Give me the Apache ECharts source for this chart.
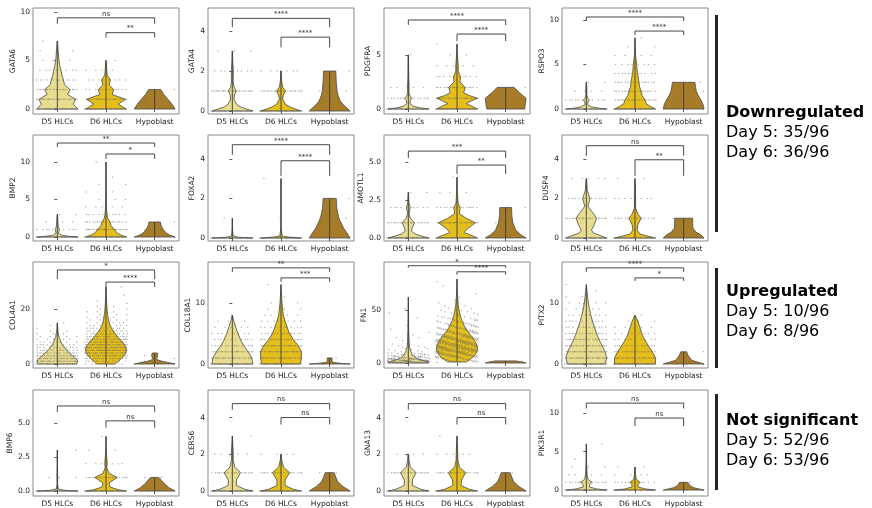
<!DOCTYPE html>
<html><head><meta charset="utf-8">
<script src="https://cdn.jsdelivr.net/npm/echarts@6/dist/echarts.min.js"></script>
<style>html,body{margin:0;padding:0;background:#fff}#c{width:872px;height:508px}</style>
</head><body><div id="c"></div><script>
const categories = ['D5 HLCs', 'D6 HLCs', 'Hypoblast'];
const genes = ['GATA6','GATA4','PDGFRA','RSPO3','BMP2','FOXA2','AMOTL1','DUSP4','COL4A1','COL18A1','FN1','PITX2','BMP6','CERS6','GNA13','PIK3R1'];
const yRange = [[-0.51,10.4],[-0.15,5.16],[-0.46,9.35],[-0.56,11.35],
                [-0.53,13.6],[-0.15,5.2],[-0.2,6.78],[-0.15,5.2],
                [-1.45,37.1],[-0.65,16.7],[-4.7,95],[-0.65,16.7],
                [-0.36,7.4],[-0.27,5.5],[-0.27,5.5],[-0.77,13]];
const yTicks = [[0,5,10],[0,2,4],[0,5],[0,5,10],
                [0,5,10],[0,2,4],[0,2.5,5],[0,2,4],
                [0,20],[0,10],[0,50],[0,10],
                [0,2.5,5],[0,2,4],[0,2,4],[0,5,10]];
const sigTop = ['ns','****','****','****','**','****','***','ns','*','**','*','****','ns','ns','ns','ns'];
const sigLow = ['**','****','****','****','*','****','**','**','****','***','****','*','ns','ns','ns','ns'];
// bracket heights (data units): [top line, top leg end, lower line, lower leg end]
const bracketY = [[9.39,8.78,7.86,7.35],[4.64,4.2,3.7,3.19],[8.24,7.78,6.94,6.3],[10.34,9.89,8.76,8.31],
                  [12.53,12.0,11.07,10.4],[4.71,4.2,3.9,3.14],[5.72,5.26,4.8,4.21],[4.66,4.15,3.95,3.14],
                  [34.2,30.9,29.8,28.0],[15.74,15.08,14.1,13.44],[91.5,89.6,85.8,83],[15.74,15.08,14.1,13.6],
                  [6.23,5.8,5.14,4.64],[4.76,4.43,4.0,3.62],[4.76,4.43,4.0,3.62],[11.3,10.6,9.36,8.3]];
const groupColors = ['#e8dc8f','#e4bf1c','#a67c28'];

// violin outlines: [value, relative half-width]
const vGATA6 = [
 [[0,1],[0.5,0.78],[1,0.9],[1.5,0.5],[2,0.62],[2.5,0.35],[3,0.3],[3.5,0.22],[4,0.18],[4.5,0.12],[5,0.08],[6,0.04],[7,0.01]],
 [[0,1],[0.5,0.6],[1,0.95],[1.5,0.3],[2,0.38],[2.5,0.15],[3,0.22],[3.5,0.06],[4,0.04],[5,0.01]],
 [[0,1],[0.5,0.85],[1,0.65],[1.5,0.45],[2,0.3]]];
const vGATA4 = [
 [[0,1],[0.1,0.7],[0.2,0.4],[0.35,0.2],[0.6,0.08],[0.8,0.1],[1,0.2],[1.2,0.08],[1.5,0.04],[2,0.05],[2.5,0.02],[3,0.01]],
 [[0,1],[0.1,0.7],[0.2,0.45],[0.35,0.2],[0.6,0.08],[0.8,0.12],[1,0.22],[1.2,0.08],[1.5,0.03],[2,0.01]],
 [[0,1],[0.15,0.85],[0.3,0.68],[0.5,0.52],[0.75,0.42],[1,0.36],[1.5,0.32],[2,0.3]]];
const vPDGFRA = [
 [[0,1],[0.1,0.6],[0.25,0.25],[0.5,0.08],[0.8,0.1],[1,0.18],[1.2,0.08],[1.6,0.03],[2,0.04],[3,0.02],[5,0.01]],
 [[0,1],[0.25,0.75],[0.5,0.45],[0.75,0.7],[1,1],[1.25,0.6],[1.5,0.33],[2,0.4],[2.5,0.15],[3,0.17],[3.5,0.06],[4,0.06],[5,0.02],[6,0.005]],
 [[0,0.92],[0.5,0.97],[1,1],[1.5,0.68],[2,0.42]]];
const vRSPO3 = [
 [[0,1],[0.1,0.6],[0.25,0.25],[0.5,0.06],[0.8,0.08],[1,0.15],[1.2,0.06],[1.6,0.02],[2,0.03],[3,0.01]],
 [[0,1],[0.3,0.75],[0.6,0.55],[1,0.5],[1.5,0.35],[2,0.3],[2.5,0.22],[3,0.2],[4,0.12],[5,0.08],[6,0.03],[7,0.015],[8,0.0]],
 [[0,1],[0.5,0.95],[1,0.85],[1.5,0.72],[2,0.62],[2.5,0.58],[3,0.55]]];
const vBMP2 = [
 [[0,1],[0.1,0.55],[0.25,0.2],[0.5,0.06],[1,0.1],[1.5,0.04],[2,0.03],[3,0.01]],
 [[0,1],[0.25,0.75],[0.5,0.55],[1,0.42],[1.5,0.25],[2,0.2],[2.5,0.08],[3,0.05],[4,0.02],[6,0.01],[10,0.0]],
 [[0,1],[0.25,0.75],[0.5,0.58],[1,0.42],[1.5,0.32],[2,0.28]]];
const vFOXA2 = [
 [[0,1],[0.04,0.3],[0.1,0.04],[0.5,0.005],[1,0.003]],
 [[0,1],[0.05,0.35],[0.1,0.06],[0.5,0.005],[1,0.003],[3,0.002]],
 [[0,1],[0.25,0.85],[0.5,0.68],[1,0.45],[1.5,0.35],[2,0.32]]];
const vAMOTL1 = [
 [[0,1],[0.1,0.7],[0.25,0.35],[0.45,0.15],[0.7,0.2],[1,0.3],[1.3,0.1],[1.6,0.04],[2,0.09],[2.3,0.03],[3,0.01]],
 [[0,1],[0.15,0.75],[0.35,0.35],[0.6,0.5],[1,0.9],[1.3,0.45],[1.6,0.12],[2,0.15],[2.3,0.05],[3,0.02],[4,0.005]],
 [[0,1],[0.2,0.75],[0.5,0.5],[1,0.35],[1.5,0.3],[2,0.29]]];
const vDUSP4 = [
 [[0,1],[0.1,0.75],[0.25,0.35],[0.4,0.25],[0.7,0.4],[1,0.5],[1.3,0.3],[1.6,0.08],[2,0.18],[2.4,0.05],[3,0.01]],
 [[0,1],[0.1,0.6],[0.2,0.25],[0.4,0.1],[0.7,0.15],[1,0.3],[1.2,0.15],[1.5,0.03],[2,0.03],[3,0.005]],
 [[0,1],[0.15,0.85],[0.3,0.6],[0.5,0.45],[0.75,0.44],[1,0.44]]];
const vCOL4A1 = [
 [[0,0.95],[1,1],[2,0.9],[3,0.75],[4,0.6],[5,0.45],[6,0.35],[7,0.25],[8,0.18],[10,0.08],[12,0.03],[15,0.0]],
 [[0,0.45],[1,0.6],[2,0.75],[3,0.88],[4,0.96],[5,1],[6,0.98],[8,0.8],[10,0.55],[12,0.35],[14,0.2],[16,0.12],[18,0.08],[20,0.05],[24,0.02],[28,0.0]],
 [[0,1],[0.5,0.7],[1,0.35],[1.5,0.15],[2,0.1],[3,0.15],[4,0.12]]];
const vCOL18A1 = [
 [[0,1],[1,0.95],[2,0.78],[3,0.56],[4,0.4],[5,0.28],[6,0.17],[7,0.08],[8,0.0]],
 [[0,0.95],[1,1],[2,1],[3,0.85],[4,0.6],[5,0.42],[6,0.3],[7,0.2],[8,0.12],[9,0.08],[10,0.05],[11,0.03],[13,0.0]],
 [[0,1],[0.1,0.6],[0.25,0.2],[0.5,0.1],[0.8,0.12],[1,0.12]]];
const vFN1 = [
 [[0,1],[1,0.95],[2,0.8],[3,0.6],[5,0.35],[8,0.2],[10,0.15],[12,0.1],[15,0.06],[20,0.04],[30,0.02],[45,0.01],[62,0.0]],
 [[1,0.45],[3,0.6],[5,0.75],[8,0.9],[12,1],[16,0.98],[20,0.9],[25,0.72],[30,0.5],[35,0.35],[40,0.24],[45,0.15],[50,0.1],[55,0.06],[65,0.02],[79,0.0]],
 [[0,1],[1,0.8],[2,0.5]]];
const vPITX2 = [
 [[0,0.92],[1,1],[2,0.92],[3,0.77],[4,0.62],[5,0.5],[6,0.4],[7,0.3],[8,0.22],[9,0.15],[10,0.1],[11,0.06],[13,0.0]],
 [[0,1],[1,1],[2,0.85],[3,0.65],[4,0.47],[5,0.33],[6,0.24],[7,0.14],[8,0.0]],
 [[0,1],[0.3,0.7],[0.6,0.4],[1,0.3],[1.5,0.2],[2,0.15]]];
const vBMP6 = [
 [[0,1],[0.05,0.4],[0.15,0.05],[0.5,0.01],[1,0.02],[2,0.005],[3,0.0]],
 [[0,1],[0.1,0.6],[0.3,0.2],[0.6,0.15],[1,0.55],[1.3,0.15],[1.7,0.04],[2,0.06],[3,0.01],[4,0.0]],
 [[0,1],[0.25,0.7],[0.5,0.5],[0.75,0.35],[1,0.2]]];
const vCERS6 = [
 [[0,1],[0.1,0.6],[0.3,0.2],[0.6,0.2],[1,0.4],[1.3,0.12],[1.7,0.04],[2,0.05],[3,0.0]],
 [[0,1],[0.1,0.6],[0.3,0.2],[0.6,0.2],[1,0.42],[1.3,0.12],[1.7,0.03],[2,0.02]],
 [[0,1],[0.25,0.65],[0.5,0.4],[0.75,0.3],[1,0.22]]];
const vGNA13 = [
 [[0,1],[0.1,0.6],[0.3,0.2],[0.6,0.2],[1,0.38],[1.3,0.1],[1.7,0.03],[2,0.02]],
 [[0,1],[0.1,0.6],[0.3,0.2],[0.6,0.22],[1,0.42],[1.3,0.12],[1.7,0.04],[2,0.04],[3,0.0]],
 [[0,1],[0.25,0.65],[0.5,0.4],[0.75,0.3],[1,0.22]]];
const vPIK3R1 = [
 [[0,1],[0.15,0.5],[0.4,0.15],[0.7,0.15],[1,0.28],[1.4,0.08],[2,0.04],[3,0.02],[4,0.01],[6,0.0]],
 [[0,1],[0.15,0.5],[0.4,0.15],[0.7,0.15],[1,0.25],[1.4,0.06],[2,0.03],[3,0.0]],
 [[0,1],[0.3,0.5],[0.6,0.3],[1,0.2]]];

// cell counts per expression level: [value, count, (vertical spread)]
const dGATA6 = [[[0,30],[1,25],[2,18],[3,12],[4,8],[5,4],[6,3],[7,1]],[[0,30],[1,25],[2,12],[3,8],[4,4],[5,1]],[[0,3],[1,2],[2,1]]];
const dGATA4 = [[[0,30],[1,25],[2,8],[3,3]],[[0,30],[1,22],[2,7]],[[0,3],[1,3],[2,2]]];
const dPDGFRA = [[[0,30],[1,15],[2,5],[5,1]],[[0,30],[1,25],[2,18],[3,10],[4,5],[5,2],[6,1]],[[0,3],[1,4],[2,2]]];
const dRSPO3 = [[[0,30],[1,12],[2,4],[3,2]],[[0,30],[1,22],[2,18],[3,15],[4,12],[5,8],[6,4],[7,2],[8,1]],[[0,3],[1,2],[2,2],[3,2]]];
const dBMP2 = [[[0,30],[1,10],[2,3],[3,2]],[[0,30],[1,25],[2,18],[3,10],[4,5],[5,3],[6,2],[7,2],[8,1],[10,1]],[[0,3],[1,2],[2,2]]];
const dFOXA2 = [[[0,30],[1,1]],[[0,30],[1,1],[3,1]],[[0,3],[1,3],[2,2]]];
const dAMOTL1 = [[[0,30],[1,20],[2,10],[3,2]],[[0,30],[1,25],[2,15],[3,3],[4,1]],[[0,3],[1,2],[2,2]]];
const dDUSP4 = [[[0,30],[1,20],[2,12],[3,5]],[[0,30],[1,15],[2,8],[3,2]],[[0,3],[1,2]]];
const dCOL4A1 = [[[0,20],[1,25],[2,24],[3,22],[4,18],[5,15],[6,12],[7,9],[8,7],[9,5],[10,4],[11,3],[12,2],[13,1],[14,1],[15,1]],
 [[0,8],[1,12],[2,18],[3,24],[4,28],[5,30],[6,30],[7,28],[8,25],[9,22],[10,18],[11,15],[12,12],[13,10],[14,8],[15,6],[16,5],[17,4],[18,3],[19,3],[20,2],[21,2],[22,1],[23,1],[25,1],[28,1]],
 [[0,4],[1,2],[2,1],[3,1],[4,1]]];
const dCOL18A1 = [[[0,25],[1,25],[2,22],[3,15],[4,10],[5,8],[6,5],[7,3],[8,1]],
 [[0,25],[1,28],[2,28],[3,24],[4,18],[5,14],[6,10],[7,8],[8,5],[9,3],[10,2],[11,1],[13,1]],
 [[0,3],[1,1]]];
const dFN1 = [[[1,60,1],[3,40,1],[5,25,1],[7,15,1],[9,10,1],[12,8,2],[17,6,3],[25,5,5],[37,3,7],[53,2,8]],
 [[2.5,30,2.5],[7.5,60,2.5],[12.5,80,2.5],[17.5,75,2.5],[22.5,60,2.5],[27.5,45,2.5],[32.5,30,2.5],[37.5,20,2.5],[42.5,12,2.5],[47.5,8,2.5],[55,6,5],[67,3,7],[77,1,2]],
 [[1,4,1]]];
const dPITX2 = [[[0,25],[1,28],[2,26],[3,24],[4,20],[5,16],[6,12],[7,10],[8,8],[9,5],[10,4],[11,2],[12,1],[13,1]],
 [[0,25],[1,26],[2,20],[3,15],[4,10],[5,8],[6,5],[7,3],[8,1]],
 [[0,3],[1,1],[2,1]]];
const dBMP6 = [[[0,30],[1,3],[3,1]],[[0,30],[1,20],[2,6],[3,2],[4,1]],[[0,3],[1,2]]];
const dCERS6 = [[[0,30],[1,18],[2,5],[3,1]],[[0,30],[1,18],[2,4]],[[0,3],[1,2]]];
const dGNA13 = [[[0,30],[1,18],[2,4]],[[0,30],[1,18],[2,5],[3,1]],[[0,3],[1,2]]];
const dPIK3R1 = [[[0,30],[1,15],[2,5],[3,3],[4,1],[6,1]],[[0,30],[1,12],[2,4],[3,2]],[[0,3],[1,1]]];

const violinShapes = [vGATA6,vGATA4,vPDGFRA,vRSPO3,vBMP2,vFOXA2,vAMOTL1,vDUSP4,vCOL4A1,vCOL18A1,vFN1,vPITX2,vBMP6,vCERS6,vGNA13,vPIK3R1];
const dotCounts = [dGATA6,dGATA4,dPDGFRA,dRSPO3,dBMP2,dFOXA2,dAMOTL1,dDUSP4,dCOL4A1,dCOL18A1,dFN1,dPITX2,dBMP6,dCERS6,dGNA13,dPIK3R1];

const groupLabels = [
  {title:'Downregulated', d5:'Day 5: 35/96', d6:'Day 6: 36/96'},
  {title:'Upregulated', d5:'Day 5: 10/96', d6:'Day 6: 8/96'},
  {title:'Not significant', d5:'Day 5: 52/96', d6:'Day 6: 53/96'}
];

// ---- layout ----
const colX = [33, 208, 384, 562];
const rowY = [8, 135, 262, 390];
const PW = 146, PH = 106;
const HW = 0.42;
const FONT = 'DejaVu Sans';

const chart = echarts.init(document.getElementById('c'), null, {renderer:'canvas'});
const grid = [], xAxis = [], yAxis = [], series = [];

genes.forEach((gene, i) => {
  const r = Math.floor(i / 4), c = i % 4;
  grid.push({left: colX[c], top: rowY[r], width: PW, height: PH, show: true,
    borderColor: '#8a8a8a', borderWidth: 1, backgroundColor: 'transparent'});
  xAxis.push({type:'value', gridIndex:i, min:-0.5, max:2.5,
    axisLine:{show:false}, splitLine:{show:false},
    axisTick:{show:true, customValues:[0,1,2], length:3, lineStyle:{color:'#333', width:0.8}},
    axisLabel:{customValues:[0,1,2], formatter: v => categories[Math.round(v)], fontSize:7.5, color:'#222', margin:4, fontFamily:FONT}});
  const dec = yTicks[i].some(t => t % 1 !== 0);
  const wide = yTicks[i][yTicks[i].length-1] >= 10;
  yAxis.push({type:'value', gridIndex:i, min:yRange[i][0], max:yRange[i][1],
    name: gene, nameLocation:'middle', nameGap: dec ? 15 : (wide ? 13 : 9), nameRotate:90,
    nameTextStyle:{fontSize:7.5, color:'#222', fontFamily:FONT},
    axisLine:{show:false}, splitLine:{show:false},
    axisTick:{show:true, customValues:yTicks[i], length:3, lineStyle:{color:'#333', width:0.8}},
    axisLabel:{customValues:yTicks[i], formatter: v => dec ? v.toFixed(1) : String(v), fontSize:7.5, color:'#222', margin:3, fontFamily:FONT}});

  const shapes = violinShapes[i];
  series.push({type:'custom', xAxisIndex:i, yAxisIndex:i, z:2, silent:true, clip:true,
    data: categories.map((_, g) => [g]),
    renderItem: (params, api) => {
      const g = api.value(0);
      const prof = shapes[g];
      const left = prof.map(p => api.coord([g - p[1]*HW, p[0]]));
      const right = prof.slice().reverse().map(p => api.coord([g + p[1]*HW, p[0]]));
      const a = api.coord([g, prof[0][0]]), b = api.coord([g, prof[prof.length-1][0]]);
      return {type:'group', children:[
        {type:'polygon', shape:{points: left.concat(right)}, style:{fill: groupColors[g], stroke:'#4a4a4a', lineWidth:0.8}},
        {type:'line', shape:{x1:a[0], y1:a[1], x2:b[0], y2:b[1]}, style:{stroke:'#3a3a3a', lineWidth:0.9}}
      ]};
    }});

  const pts = [];
  dotCounts[i].forEach((lv, g) => {
    lv.forEach(([v, n, s]) => {
      for (let k = 0; k < n; k++) {
        const fx = (k * 0.6180339887 + v * 0.31 + g * 0.17) % 1;
        const fy = (k * 0.7548776662 + 0.37) % 1;
        pts.push([g + (fx * 2 - 1) * 0.44, v + (s ? (fy * 2 - 1) * s : 0)]);
      }
    });
  });
  series.push({type:'scatter', xAxisIndex:i, yAxisIndex:i, z:3, silent:true,
    symbolSize:1.5, itemStyle:{color:'rgba(95,95,95,0.6)'}, data: pts});

  const by = bracketY[i];
  series.push({type:'custom', xAxisIndex:i, yAxisIndex:i, z:4, silent:true, clip:false,
    data:[[0]],
    renderItem: (params, api) => {
      const t0 = api.coord([0, by[1]]), t1 = api.coord([0, by[0]]), t2 = api.coord([2, by[0]]), t3 = api.coord([2, by[1]]);
      const l0 = api.coord([1, by[3]]), l1 = api.coord([1, by[2]]), l2 = api.coord([2, by[2]]), l3 = api.coord([2, by[3]]);
      const ls = {stroke:'#333', lineWidth:0.9, fill:null};
      const ts = (txt, x, y) => ({type:'text', x:x, y:y-0.5, style:{text:txt, fontSize:7, fontFamily:FONT, fill:'#333', align:'center', verticalAlign:'bottom'}});
      return {type:'group', children:[
        {type:'polyline', shape:{points:[t0,t1,t2,t3]}, style:ls},
        {type:'polyline', shape:{points:[l0,l1,l2,l3]}, style:ls},
        ts(sigTop[i], (t1[0]+t2[0])/2, t1[1]),
        ts(sigLow[i], (l1[0]+l2[0])/2, l1[1])
      ]};
    }});
});

const barSpans = [[15,232],[268,368],[394,490]];
const textY = [113, 292, 421];
const graphic = [];
groupLabels.forEach((gl, j) => {
  graphic.push({type:'rect', shape:{x:715, y:barSpans[j][0], width:3, height:barSpans[j][1]-barSpans[j][0]}, style:{fill:'#222'}});
  graphic.push({type:'text', x:726, y:textY[j], style:{text:gl.title, font:'bold 16px "DejaVu Sans"', fill:'#000', verticalAlign:'middle'}});
  graphic.push({type:'text', x:726, y:textY[j]+20, style:{text:gl.d5, font:'16px "DejaVu Sans"', fill:'#000', verticalAlign:'middle'}});
  graphic.push({type:'text', x:726, y:textY[j]+40, style:{text:gl.d6, font:'16px "DejaVu Sans"', fill:'#000', verticalAlign:'middle'}});
});

chart.setOption({animation:false, backgroundColor:'#fff', grid, xAxis, yAxis, series, graphic});
</script></body></html>
